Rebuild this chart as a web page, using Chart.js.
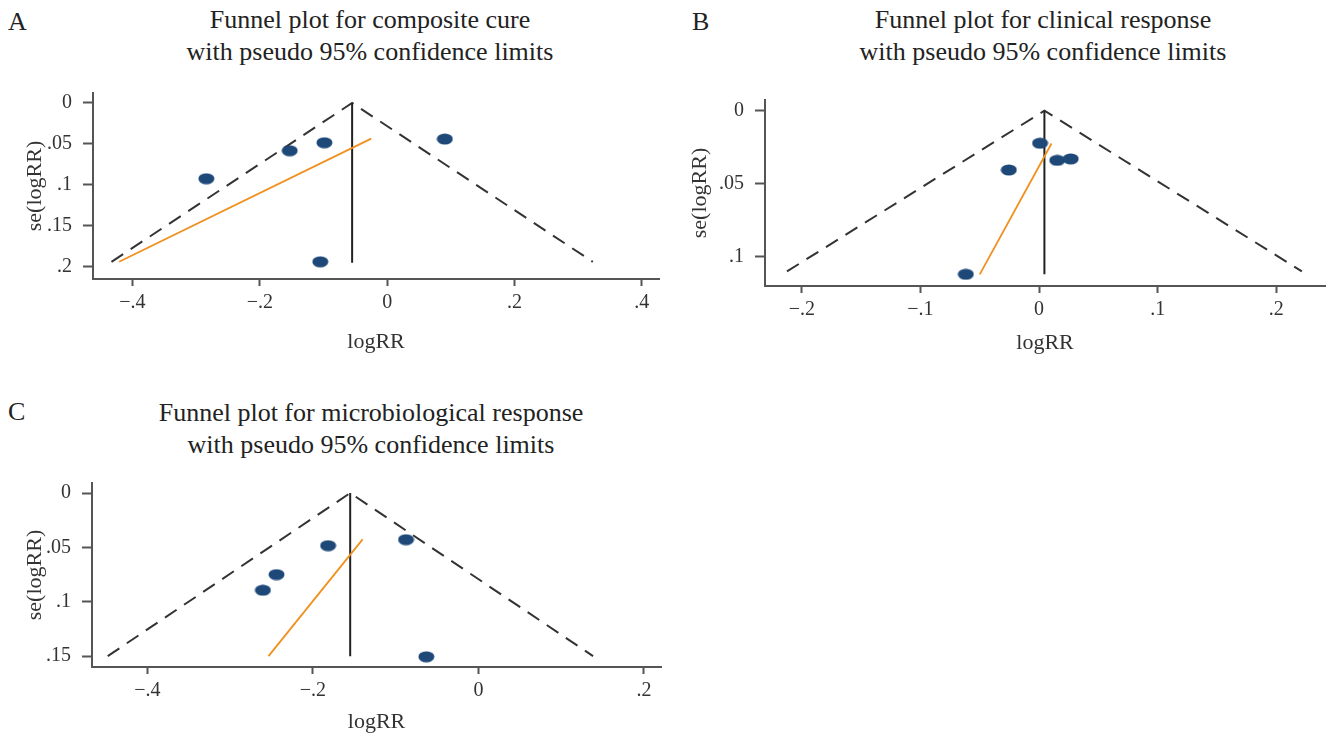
<!DOCTYPE html>
<html lang="en">
<head>
  <meta charset="UTF-8">
  <title>Funnel plots</title>
  <style>
    body {
      margin: 0;
      width: 1334px;
      height: 737px;
      background: #fff;
      position: relative;
      overflow: hidden;
      font-family: "Liberation Serif", "DejaVu Serif", serif;
      color: #222;
    }
    .letter {
      position: absolute;
      font-size: 26px;
      line-height: 32px;
    }
    .title {
      position: absolute;
      width: 600px;
      margin-left: -300px;
      text-align: center;
      font-size: 26px;
      line-height: 32px;
    }
    canvas {
      position: absolute;
    }
  </style>
</head>
<body>
  <div class="letter" style="left:8px; top:6px;">A</div>
  <div class="title" style="left:370px; top:4px;">Funnel plot for composite cure<br>with pseudo 95% confidence limits</div>
  <canvas id="chartA" width="670" height="280" style="left:0; top:80px;"></canvas>

  <div class="letter" style="left:692px; top:6px;">B</div>
  <div class="title" style="left:1043px; top:4px;">Funnel plot for clinical response<br>with pseudo 95% confidence limits</div>
  <canvas id="chartB" width="654" height="280" style="left:680px; top:80px;"></canvas>

  <div class="letter" style="left:8px; top:396px;">C</div>
  <div class="title" style="left:371px; top:397px;">Funnel plot for microbiological response<br>with pseudo 95% confidence limits</div>
  <canvas id="chartC" width="670" height="267" style="left:0; top:470px;"></canvas>

  <script src="https://cdn.jsdelivr.net/npm/chart.js"></script>
  <script>
    // Panel A - composite cure
    const aStudyX = [-0.284, -0.153, -0.0985, -0.105, 0.0906];
    const aStudyY = [0.0925, 0.0583, 0.0485, 0.194, 0.044];
    const aFunnelX = [-0.433, -0.055, 0.323];
    const aFunnelY = [0.194, 0, 0.194];
    const aPooledX = [-0.055, -0.055];
    const aPooledY = [0, 0.195];
    const aEggerX = [-0.421, -0.025];
    const aEggerY = [0.194, 0.0436];
    const aXTicks = [-0.4, -0.2, 0, 0.2, 0.4];
    const aXLabels = ['\u2212.4', '\u2212.2', '0', '.2', '.4'];
    const aYTicks = [0, 0.05, 0.1, 0.15, 0.2];
    const aYLabels = ['0', '.05', '.1', '.15', '.2'];

    // Panel B - clinical response
    const bStudyX = [0.0008, -0.0255, 0.0153, 0.0267, -0.0617];
    const bStudyY = [0.0223, 0.0406, 0.034, 0.033, 0.112];
    const bFunnelX = [-0.2125, 0.0045, 0.2215];
    const bFunnelY = [0.110, 0, 0.110];
    const bPooledX = [0.0045, 0.0045];
    const bPooledY = [0, 0.112];
    const bEggerX = [-0.050, 0.0105];
    const bEggerY = [0.112, 0.0225];
    const bXTicks = [-0.2, -0.1, 0, 0.1, 0.2];
    const bXLabels = ['\u2212.2', '\u2212.1', '0', '.1', '.2'];
    const bYTicks = [0, 0.05, 0.1];
    const bYLabels = ['0', '.05', '.1'];

    // Panel C - microbiological response
    const cStudyX = [-0.1817, -0.244, -0.2605, -0.0875, -0.063];
    const cStudyY = [0.0484, 0.075, 0.0894, 0.0429, 0.1506];
    const cFunnelX = [-0.448, -0.155, 0.1385];
    const cFunnelY = [0.150, 0, 0.150];
    const cPooledX = [-0.155, -0.155];
    const cPooledY = [0, 0.150];
    const cEggerX = [-0.2537, -0.140];
    const cEggerY = [0.150, 0.0426];
    const cXTicks = [-0.4, -0.2, 0, 0.2];
    const cXLabels = ['\u2212.4', '\u2212.2', '0', '.2'];
    const cYTicks = [0, 0.05, 0.1, 0.15];
    const cYLabels = ['0', '.05', '.1', '.15'];

    // oval marker like the Stata dots
    const dot = document.createElement('canvas');
    dot.width = 17;
    dot.height = 12;
    const dctx = dot.getContext('2d');
    dctx.fillStyle = '#1d4878';
    dctx.beginPath();
    dctx.ellipse(8.5, 6, 8, 5.5, 0, 0, Math.PI * 2);
    dctx.fill();

    function pairs(xs, ys) {
      return xs.map((x, i) => ({ x: x, y: ys[i] }));
    }

    const axisColor = '#555';
    const serif = '"Liberation Serif", "DejaVu Serif", serif';

    function makeFunnel(id, d, box) {
      const ctx = document.getElementById(id).getContext('2d');
      return new Chart(ctx, {
        type: 'scatter',
        data: {
          datasets: [
            { data: pairs(d.studyX, d.studyY), pointStyle: dot, pointRadius: 8, clip: false },
            { type: 'line', data: pairs(d.eggerX, d.eggerY), borderColor: '#f0901e', borderWidth: 1.8,
              pointRadius: 0, fill: false, clip: false },
            { type: 'line', data: pairs(d.pooledX, d.pooledY), borderColor: '#222', borderWidth: 2,
              pointRadius: 0, fill: false, clip: false },
            { type: 'line', data: pairs(d.funnelX, d.funnelY), borderColor: '#333', borderWidth: 2,
              borderDash: [14, 9], pointRadius: 0, fill: false, clip: false }
          ]
        },
        options: {
          responsive: false,
          animation: false,
          events: [],
          layout: { padding: { left: 0, top: box.top, right: box.right, bottom: 0 } },
          plugins: { legend: { display: false }, tooltip: { enabled: false } },
          scales: {
            x: {
              type: 'linear',
              min: d.xMin,
              max: d.xMax,
              afterBuildTicks: (s) => { s.ticks = d.xTicks.map(v => ({ value: v })); },
              afterFit: (s) => { s.height = box.xH; s.paddingLeft = 0; s.paddingRight = 0; },
              ticks: {
                color: '#333',
                padding: 5,
                maxRotation: 0,
                font: { family: serif, size: 20 },
                callback: (v, i) => d.xLabels[i]
              },
              grid: { drawOnChartArea: false, drawTicks: true, tickLength: 7, tickWidth: 2, tickColor: axisColor },
              border: { color: axisColor, width: 2 },
              title: { display: true, text: 'logRR', color: '#333', font: { family: serif, size: 22 },
                padding: { top: 0, bottom: box.xTitlePad } }
            },
            y: {
              type: 'linear',
              reverse: true,
              min: d.yMin,
              max: d.yMax,
              afterBuildTicks: (s) => { s.ticks = d.yTicks.map(v => ({ value: v })); },
              afterFit: (s) => { s.width = box.yW; s.paddingTop = 0; s.paddingBottom = 0; },
              ticks: {
                color: '#333',
                padding: 11,
                font: { family: serif, size: 20 },
                callback: (v, i) => d.yLabels[i]
              },
              grid: { drawOnChartArea: false, drawTicks: true, tickLength: 10, tickWidth: 2, tickColor: axisColor },
              border: { color: axisColor, width: 2 },
              title: { display: true, text: 'se(logRR)', color: '#333', font: { family: serif, size: 22 },
                padding: { top: box.yTitlePad, bottom: 0 } }
            }
          }
        }
      });
    }

    makeFunnel('chartA', {
      studyX: aStudyX, studyY: aStudyY, funnelX: aFunnelX, funnelY: aFunnelY,
      pooledX: aPooledX, pooledY: aPooledY, eggerX: aEggerX, eggerY: aEggerY,
      xTicks: aXTicks, xLabels: aXLabels, yTicks: aYTicks, yLabels: aYLabels,
      xMin: -0.462, xMax: 0.427, yMin: -0.0122, yMax: 0.215
    }, { top: 13, right: 11, xH: 81, yW: 93, xTitlePad: 5, yTitlePad: 22 });

    makeFunnel('chartB', {
      studyX: bStudyX, studyY: bStudyY, funnelX: bFunnelX, funnelY: bFunnelY,
      pooledX: bPooledX, pooledY: bPooledY, eggerX: bEggerX, eggerY: bEggerY,
      xTicks: bXTicks, xLabels: bXLabels, yTicks: bYTicks, yLabels: bYLabels,
      xMin: -0.231, xMax: 0.241, yMin: -0.0073, yMax: 0.120
    }, { top: 20, right: 2, xH: 74, yW: 85, xTitlePad: 4, yTitlePad: 7 });

    makeFunnel('chartC', {
      studyX: cStudyX, studyY: cStudyY, funnelX: cFunnelX, funnelY: cFunnelY,
      pooledX: cPooledX, pooledY: cPooledY, eggerX: cEggerX, eggerY: cEggerY,
      xTicks: cXTicks, xLabels: cXLabels, yTicks: cYTicks, yLabels: cYLabels,
      xMin: -0.467, xMax: 0.2206, yMin: -0.0092, yMax: 0.160
    }, { top: 13, right: 5, xH: 70, yW: 92, xTitlePad: 2, yTitlePad: 22 });
  </script>
</body>
</html>
